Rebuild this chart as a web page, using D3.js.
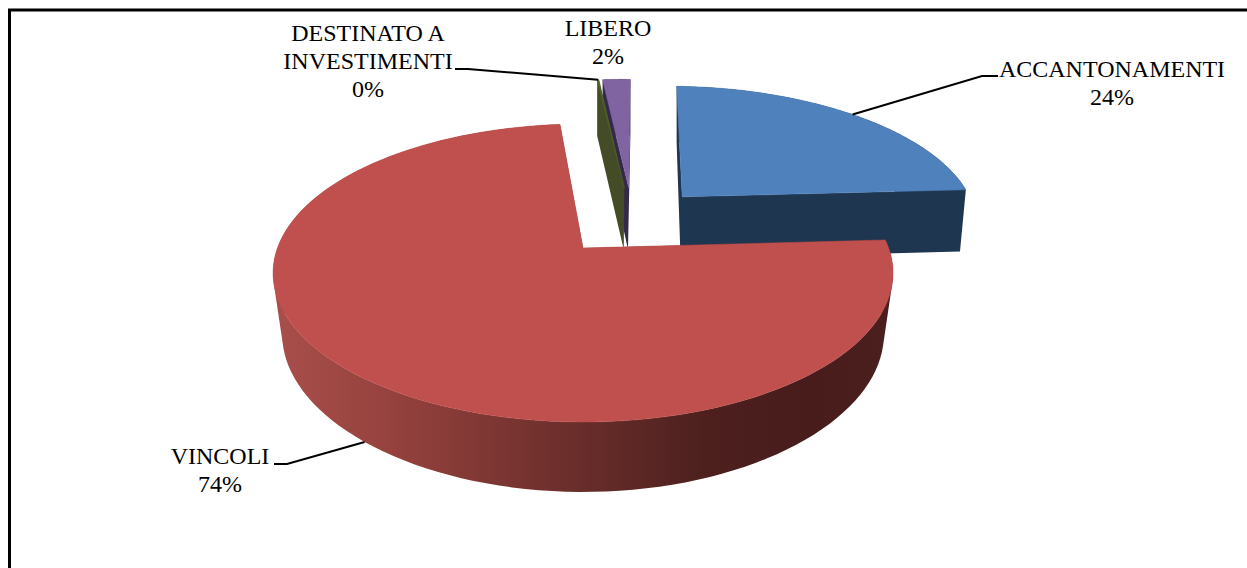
<!DOCTYPE html>
<html>
<head>
<meta charset="utf-8">
<script src="https://cdn.jsdelivr.net/npm/d3@7"></script>
<style>
  html, body { margin: 0; padding: 0; background: #fff; overflow: hidden; }
  text { font-family: "Liberation Serif", serif; font-size: 24px; fill: #000; }
</style>
</head>
<body>
<svg id="chart" width="1247" height="568"></svg>
<script>
// chart values
const categories = ["ACCANTONAMENTI", "VINCOLI", "DESTINATO A INVESTIMENTI", "LIBERO"];
const values = [23.6, 74.49, 0.11, 1.8];
const labelLines = [["ACCANTONAMENTI"], ["VINCOLI"], ["DESTINATO A", "INVESTIMENTI"], ["LIBERO"]];

// colours: top face, side face
const topColors = ["#4f81bd", "#c0504d", "#4f6228", "#8064a2"];
const sideColors = ["#1f3650", "url(#redSide)", "#434c26", "#33294a"];

// layout of the tilted pie (ground plane seen in perspective)
const vanishX = 583;
const baseY = 248;
const scaleX = 305.6;
const scaleY = 144.8;
const tilt = 0.168;
const explode = 0.255;
const originX = 0.167;
const originZ = 0.193;

// label layout: centre x, first baseline, where the leader joins the text
const labelPos = [
    {x: 1112, y: 77, line: [[998, 76], [982, 76]], rim: "top"},
    {x: 220, y: 464, line: [[274, 464], [287, 464]], rim: "bottom"},
    {x: 368, y: 41, line: [[455, 69], [468, 69]], rim: "top"},
    {x: 608, y: 36, line: null, rim: "top"}
];

const svg = d3.select("#chart");

// red side shading
const grad = svg.append("defs").append("linearGradient")
    .attr("id", "redSide")
    .attr("gradientUnits", "userSpaceOnUse")
    .attr("x1", 283).attr("x2", 885).attr("y1", 0).attr("y2", 0);
[[0, "#a84e4a"], [0.2, "#93403c"], [0.45, "#6f302d"], [0.7, "#4d201e"], [0.88, "#471c1b"], [1, "#4a1f1e"]]
    .forEach(s => grad.append("stop").attr("offset", s[0]).attr("stop-color", s[1]));

// frame
svg.append("path")
    .attr("d", "M9.5,568V10H1247")
    .attr("fill", "none")
    .attr("stroke", "#000")
    .attr("stroke-width", 3);

const pie = d3.pie().sort(null).startAngle(0.032).endAngle(0.032 + 2 * Math.PI);
const slices = pie(values);
const line = d3.line();

// ground point -> screen, top face
function project(X, Z) {
    const w = 1 + tilt * (Z + originZ);
    return {
        x: vanishX + scaleX * (X + originX) / w,
        y: baseY - scaleY * (Z + originZ) / w,
        w: w
    };
}

// same point on the lower face
function lower(p) {
    const q = Math.max(0, 0.03 - 0.13 * (p.w - 0.97));
    const s = p.w / (p.w + q);
    return [vanishX + (p.x - vanishX) * s, p.y + 70 - 34 * (p.w - 0.83)];
}

function centerOf(d) {
    const mid = (d.startAngle + d.endAngle) / 2;
    return [explode * Math.sin(mid), explode * Math.cos(mid)];
}

function rimPoint(d, a) {
    const c = centerOf(d);
    return project(c[0] + Math.sin(a), c[1] + Math.cos(a));
}

function rimPoints(d) {
    return d3.range(0, 121).map(i => rimPoint(d, d.startAngle + (d.endAngle - d.startAngle) * i / 120));
}

const xy = p => [p.x, p.y];

// back to front: blue, purple, green, red
const drawOrder = [0, 3, 2, 1];
drawOrder.forEach(i => {
    const d = slices[i];
    const c = centerOf(d);
    const apex = project(c[0], c[1]);
    const rim = rimPoints(d);
    const g = svg.append("g");

    // walls: one path of same-wound quads, so the union fills without seams
    const strips = [[apex, rim[0]], [apex, rim[rim.length - 1]]];
    d3.pairs(rim).forEach(pair => strips.push(pair));
    const wall = strips.map(s => {
        const pts = [xy(s[0]), xy(s[1]), lower(s[1]), lower(s[0])];
        if (d3.polygonArea(pts) < 0) pts.reverse();
        return line(pts) + "Z";
    }).join("");
    g.append("path")
        .attr("d", wall)
        .attr("fill", sideColors[i]);

    // top face
    g.append("path")
        .attr("d", line([apex].concat(rim).map(xy)) + "Z")
        .attr("fill", topColors[i])
        .attr("stroke", topColors[i])
        .attr("stroke-width", 0.5);
});

// leaders and labels
slices.forEach((d, i) => {
    const pos = labelPos[i];
    if (pos.line) {
        const p = rimPoint(d, (d.startAngle + d.endAngle) / 2);
        const end = pos.rim === "bottom" ? lower(p) : xy(p);
        svg.append("path")
            .attr("d", line(pos.line.concat([end])))
            .attr("fill", "none")
            .attr("stroke", "#000")
            .attr("stroke-width", 2);
    }
    const rows = labelLines[i].concat([Math.round(d.value) + "%"]);
    svg.append("g").selectAll("text")
        .data(rows)
        .enter()
        .append("text")
        .attr("x", pos.x)
        .attr("y", (t, j) => pos.y + j * 28)
        .attr("text-anchor", "middle")
        .text(t => t);
});
</script>
</body>
</html>
